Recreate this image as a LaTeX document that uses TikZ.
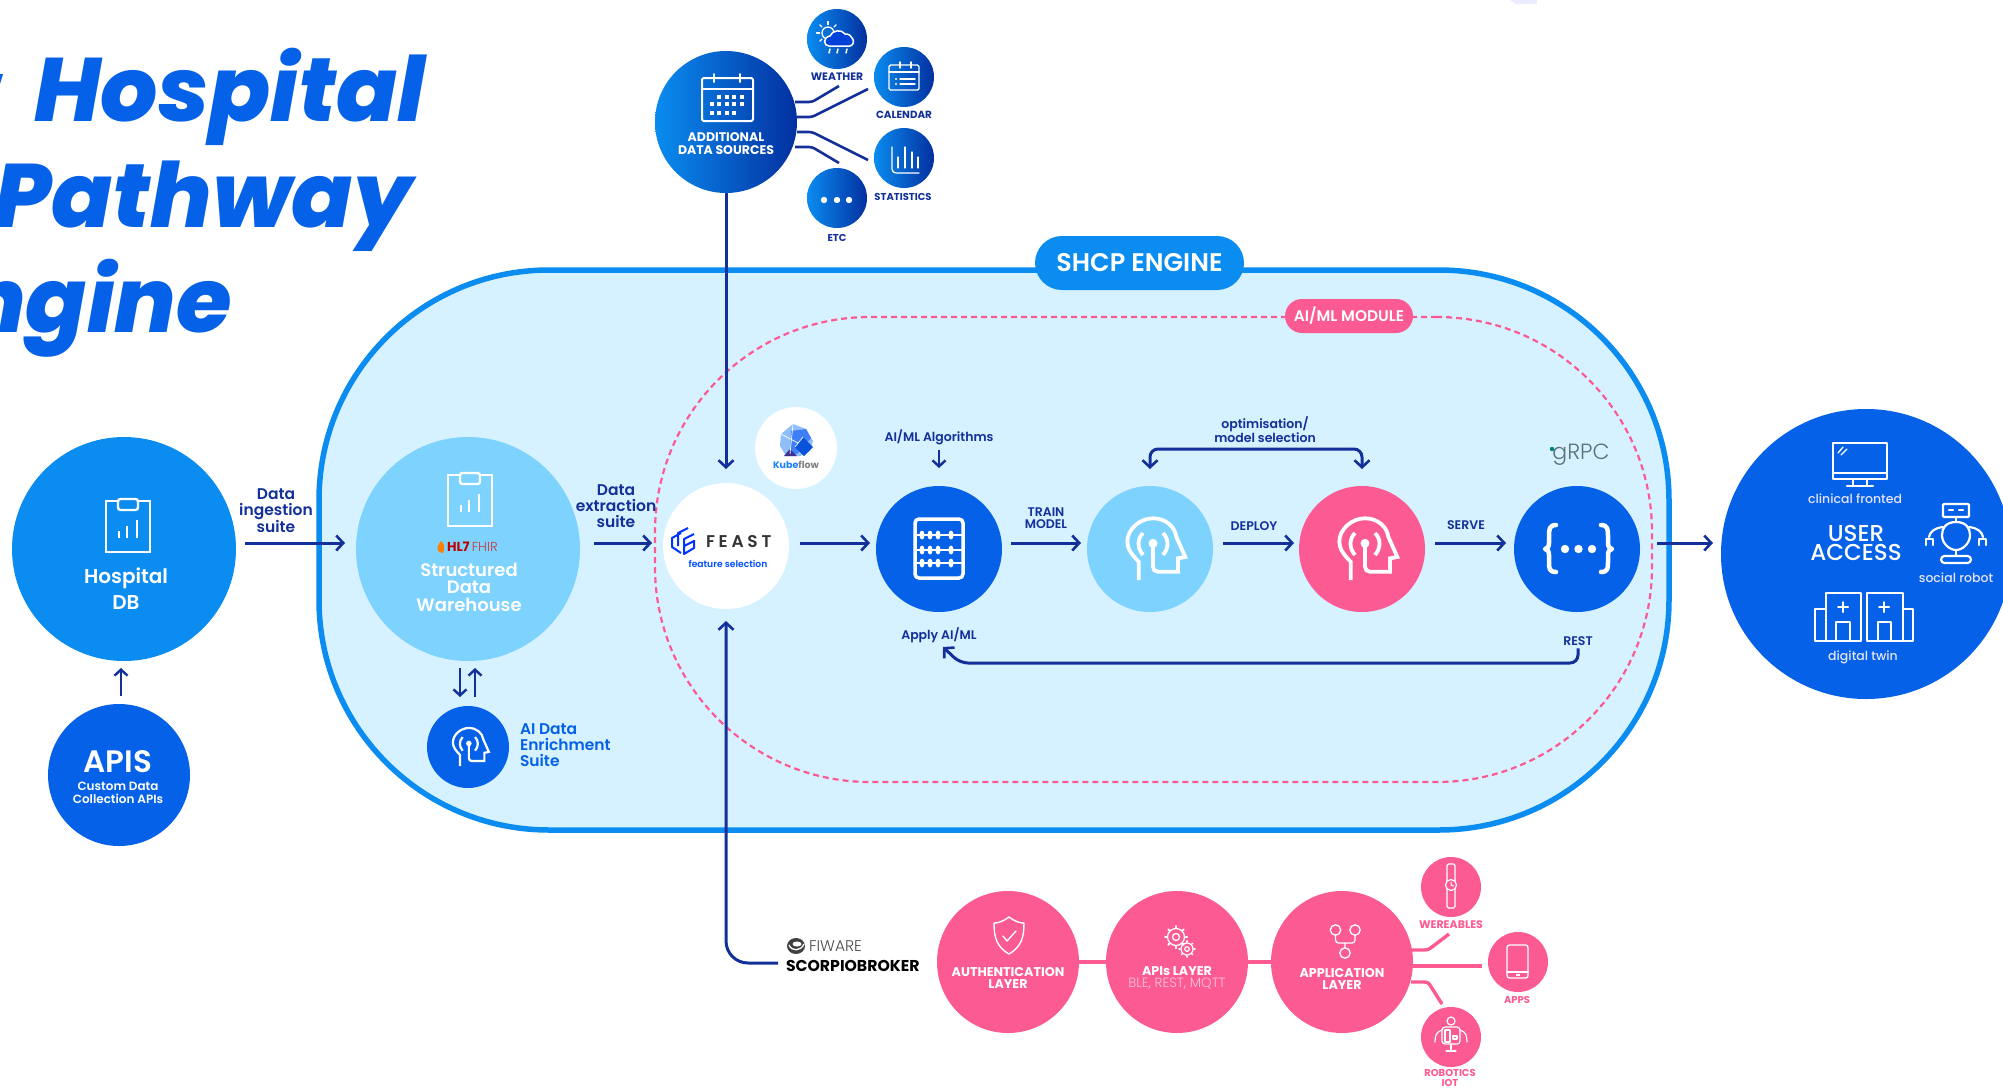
\documentclass[tikz,border=0pt]{standalone}
\usepackage{fontspec}
\setmainfont{Poppins}
\newfontfamily\pmed{Poppins Medium}
\newfontfamily\psemi{Poppins SemiBold}
\newfontfamily\plight{Poppins Light}
\newfontfamily\ptitle{Poppins ExtraBold Italic}
\usetikzlibrary{arrows.meta,calc}
\definecolor{navy}{HTML}{13309A}
\definecolor{azure}{HTML}{0B8CF0}
\definecolor{royal}{HTML}{0561E8}
\definecolor{sky}{HTML}{7DD3FD}
\definecolor{pale}{HTML}{D6F1FF}
\definecolor{rosy}{HTML}{FC5A92}
\definecolor{gradA}{HTML}{0A8CF0}
\definecolor{gradB}{HTML}{0330A0}
\definecolor{kubeA}{HTML}{90BEFB}
\definecolor{kubeB}{HTML}{3F7FF7}
\definecolor{kubeC}{HTML}{0A52D9}
\definecolor{kubeD}{HTML}{3B2F8F}
\definecolor{grpcgray}{HTML}{5B7078}
\newcommand{\fs}[2]{\fontsize{#1}{#2}\selectfont}
\tikzset{
  x=1pt,y=-1pt,
  disc/.style={circle,inner sep=0pt,outer sep=0pt,minimum size=#1,draw=none},
  grad/.style={disc=#1,left color=gradA,right color=gradB},
  txt/.style={inner sep=0pt,outer sep=0pt,align=center},
  nlabel/.style={txt,text=navy,font=\psemi},
  wlabel/.style={txt,text=white,font=\psemi},
  tlabel/.style={txt,anchor=base east,text=royal,font=\ptitle\fs{90}{90}},
  flow/.style={draw=navy,line width=3pt,-{Straight Barb[length=7pt,width=15pt,line width=2.6pt]}},
  thin flow/.style={draw=navy,line width=2.4pt,-{Straight Barb[length=6pt,width=13pt,line width=2.4pt]}},
  link/.style={draw=navy,line width=2.6pt,rounded corners=3pt},
  plink/.style={draw=rosy,line width=3.4pt,rounded corners=3pt},
  icon/.style={draw=white,line width=#1,line cap=round,line join=round},
  icon/.default=1.6pt,
  headicon/.pic={
    \draw (-11.3,31) -- (-11.3,12.7) .. controls (-18,6) and (-22.7,0) .. (-22.7,-7.3)
      .. controls (-22.7,-20) and (-10,-30.7) .. (3,-30.7)
      .. controls (16,-30.7) and (25,-22) .. (26.3,-12.3) -- (35.3,8) -- (28,9.3) -- (28,22.7) -- (8,22.7)
      .. controls (5,22.7) and (3,20.7) .. (3,17.7) -- (3,-5.7);
    \fill (3,-5.7) circle (4.5);
    \draw (-7,-16) .. controls (-13,-10) and (-13,-1) .. (-7,6);
    \draw (13,-16) .. controls (19,-10) and (19,-1) .. (13,6);
  },
  clipicon/.pic={
    \draw (-10,-26) -- (-22,-26) -- (-22,25) -- (22,25) -- (22,-26) -- (10,-26);
    \draw[rounded corners=2.5pt] (-10,-28) rectangle (10,-17);
    \draw (-9,11) -- (-9,4) (-1,11) -- (-1,-1) (9,11) -- (9,-7);
  }
}
\begin{document}
\begin{tikzpicture}
\useasboundingbox (0,0) rectangle (2003,1088);
\begin{scope}
\clip (0,0) rectangle (2003,1088);

% faint mark at the top edge
\fill[color=blue!8] (1510,0) -- (1537,0) -- (1537,4) -- (1516,4) -- cycle;

% title
\node[tlabel] (t1) at (425,121) {Hospital};
\node[tlabel] (t2) at (412,227) {Pathway};
\node[tlabel] (t3) at (232,332) {ngine};
\fill[royal] (0,74) -- (3,74) -- (0,84) -- cycle;

% engine containers
\node[draw=azure,fill=pale,line width=5.5pt,rounded corners=230pt,minimum width=1350pt,minimum height=560pt,inner sep=0pt] (engine) at (994,550) {};
\node[draw=rosy,dash pattern=on 6pt off 4pt,line width=2.2pt,rounded corners=215pt,minimum width=997pt,minimum height=465pt,inner sep=0pt] (module) at (1153.5,549.5) {};
\node[fill=azure,rounded corners=27pt,minimum width=209pt,minimum height=54pt,inner sep=0pt,text=white,font=\psemi\fs{25.5}{25.5}] (shcp) at (1139.5,263) {SHCP ENGINE};
\node[fill=rosy,rounded corners=17pt,minimum width=128pt,minimum height=34pt,inner sep=0pt,text=white,font=\psemi\fs{15.4}{15.4}] (aiml) at (1349,316) {AI/ML MODULE};

% main discs
\node[disc=224pt,fill=azure] (hosp) at (124,549) {};
\node[disc=142pt,fill=royal] (apis) at (119,775) {};
\node[disc=224pt,fill=sky] (ware) at (468,549) {};
\node[disc=82pt,fill=royal] (enrich) at (468,747) {};
\node[disc=126pt,fill=white] (feast) at (726,546) {};
\node[disc=82pt,fill=white] (kube) at (796,448) {};
\node[disc=126pt,fill=royal] (abacus) at (939,549) {};
\node[disc=126pt,fill=sky] (lhead) at (1150,549) {};
\node[disc=126pt,fill=rosy] (phead) at (1362,549) {};
\node[disc=126pt,fill=royal] (grpc) at (1577,549) {};
\node[disc=290pt,fill=royal] (user) at (1866,554) {};

% additional data sources
\coordinate (l1) at (839,86);
\coordinate (l2) at (868,89);
\coordinate (l3) at (868,160);
\coordinate (l4) at (839,163);
\node[grad=142pt] (add) at (726,122) {};
\node[grad=60pt] (weather) at (837,39) {};
\node[grad=60pt] (calendar) at (904,77) {};
\node[grad=60pt] (stats) at (904,158) {};
\node[grad=60pt] (etc) at (837,198) {};
\draw[link] ($(add.center)+(69,-20)$) -- (812,102) -- (l1);
\draw[link] ($(add.center)+(71,-5)$) -- (812,117) -- (l2);
\draw[link] ($(add.center)+(71,10)$) -- (812,132) -- (l3);
\draw[link] ($(add.center)+(69,25)$) -- (812,147) -- (l4);

% pink layers
\coordinate (p1) at (1449,934);
\coordinate (p2) at (1482,966);
\coordinate (p3) at (1442,1004);
\node[disc=142pt,fill=rosy] (auth) at (1008,962) {};
\node[disc=142pt,fill=rosy] (apil) at (1177,962) {};
\node[disc=142pt,fill=rosy] (appl) at (1342,962) {};
\node[disc=60pt,fill=rosy] (wear) at (1451,887) {};
\node[disc=60pt,fill=rosy] (apps) at (1518,962) {};
\node[disc=60pt,fill=rosy] (robo) at (1451,1037) {};
\draw[plink] (auth.east) -- (apil.west);
\draw[plink] (apil.east) -- (appl.west);
\draw[plink] ($(appl.center)+(69,-12)$) -- (1428,950) -- (p1);
\draw[plink] ($(appl.center)+(71,4)$) -- (p2);
\draw[plink] ($(appl.center)+(69,20)$) -- (1428,982) -- (p3);

% flows
\draw[flow] ($(hosp.east)+(9,-6)$) -- ($(ware.west)+(-11,-6)$);
\draw[flow] ($(ware.east)+(14,-6)$) -- ($(feast.west)+(-11,-3)$);
\draw[flow] ($(feast.east)+(11,-3)$) -- ($(abacus.west)+(-6,-6)$);
\draw[flow] ($(abacus.east)+(9,-6)$) -- ($(lhead.west)+(-6,-6)$);
\draw[flow] ($(lhead.east)+(10,-6)$) -- ($(phead.west)+(-5,-6)$);
\draw[flow] ($(phead.east)+(10,-6)$) -- ($(grpc.west)+(-8,-6)$);
\draw[flow] ($(grpc.east)+(17,-6)$) -- ($(user.west)+(-8,-11)$);
\draw[flow] (add.south) -- ($(feast.north)+(0,-14)$);
\coordinate (fw) at (778,963);
\draw[flow,rounded corners=22pt] (fw) -| ($(feast.south)+(0,12)$);
\draw[thin flow] ($(apis.north)+(2,-8)$) -- ($(hosp.south)+(-3,7)$);
\draw[thin flow] ($(ware.south)+(-8,7)$) -- ($(enrich.north)+(-8,-9)$);
\draw[thin flow] ($(enrich.north)+(7,-9)$) -- ($(ware.south)+(7,7)$);

% flow labels
\node[nlabel,font=\psemi\fs{15.5}{15.7}] (ingest) at (276,511) {Data\\ingestion\\suite};
\node[nlabel,font=\psemi\fs{15.5}{15.7}] (extract) at (616,506) {Data\\extraction\\suite};
\node[nlabel,font=\psemi\fs{12.5}{13}] (algo) at (939,437) {AI/ML Algorithms};
\draw[thin flow] ($(algo.south)+(0,5)$) -- ($(abacus.north)+(0,-18)$);
\node[nlabel,font=\psemi\fs{12.5}{12.5}] (train) at (1046,518) {TRAIN\\MODEL};
\node[nlabel,font=\psemi\fs{12.5}{12.5}] (deploy) at (1254,526) {DEPLOY};
\node[nlabel,font=\psemi\fs{12.5}{12.5}] (serve) at (1466,525) {SERVE};
\node[nlabel,font=\psemi\fs{12.5}{13}] (opt) at (1265,430) {optimisation/\\model selection};
\coordinate (optb) at (1257,449);
\draw[flow,{Straight Barb[length=7pt,width=15pt,line width=2.6pt]}-{Straight Barb[length=7pt,width=15pt,line width=2.6pt]},rounded corners=8pt] ($(lhead.north)+(0,-17)$) |- (optb) -| ($(phead.north)+(0,-17)$);
\node[nlabel,font=\psemi\fs{12.5}{12.5}] (apply) at (939,635) {Apply AI/ML};
\node[nlabel,font=\psemi\fs{12.5}{12.5}] (rest) at (1578,641) {REST};
\coordinate (rtip) at (943,647);
\coordinate (rmid) at (960,663);
\draw[flow,rounded corners=8pt] ($(rest.south)+(0,3)$) |- (rmid) -- (rtip);

% Hospital DB / APIs / warehouse text
\pic[color=white,line width=2.4pt] at (128,527) {clipicon};
\node[wlabel,font=\psemi\fs{20}{26}] (hosptxt) at (126,589) {Hospital\\DB};
\node[wlabel,font=\psemi\fs{31}{31}] (apistxt) at (118,762) {APIS};
\node[wlabel,font=\psemi\fs{12}{12.5}] (apissub) at (118,793) {Custom Data\\Collection APIs};
\pic[color=white,line width=2.4pt] at (470,501) {clipicon};
\fill[orange] (441,541) .. controls (445,544) and (445,548) .. (443,553) .. controls (437,553) and (435,548) .. (441,541);
\node[txt,anchor=west,font=\fs{13}{13}] (fhir) at (447,547) {\textcolor{red!75!black}{\bfseries HL7}\,{\plight\textcolor{red!55!gray}{FHIR}}};
\node[wlabel,font=\psemi\fs{18}{17.5}] (waretxt) at (469,587) {Structured\\Data\\Warehouse};
\pic[color=white,line width=2.2pt,scale=.62] at (467,747) {headicon};
\node[txt,anchor=west,align=left,text=royal,font=\psemi\fs{15.5}{16}] (enrichtxt) at (520,745) {AI Data\\Enrichment\\Suite};

% Additional data sources icons
\draw[icon=2pt,rounded corners=2pt] (702,78) rectangle (753,121);
\draw[icon=2pt] (702,89) -- (753,89) (714,74) -- (714,82) (740,74) -- (740,82);
\foreach \px in {719,727,734,742} \fill[white] (\px-2,95) rectangle (\px+2,99);
\foreach \px in {712,719,727,734,742} \fill[white] (\px-2,102) rectangle (\px+2,106);
\foreach \px in {712,719,727,734} \fill[white] (\px-2,111) rectangle (\px+2,115);
\node[wlabel,font=\bfseries\fs{12.5}{13}] (addtxt) at (726,144) {ADDITIONAL\\DATA SOURCES};
% weather
\draw[icon=1.3pt] (828,33) circle (6);
\foreach \a in {0,45,...,315} \draw[icon=1.3pt] ($(828,33)+(\a:8.5)$) -- ($(828,33)+(\a:11.5)$);
\draw[icon=1.5pt,fill=blue!70!cyan!85!black] (829,46) .. controls (823,46) and (823,37) .. (830,36) .. controls (832,30) and (842,29) .. (845,34) .. controls (852,33) and (857,44) .. (850,46) -- cycle;
\draw[icon=1.5pt] (830,49) -- (829,53) (838,49) -- (837,53) (847,49) -- (846,53);
% calendar
\draw[icon=1.4pt,rounded corners=1.5pt] (889,65) rectangle (919,90);
\draw[icon=1.4pt] (889,72) -- (919,72) (900,62) -- (900,68) (911,62) -- (911,68);
\draw[icon=1.4pt] (900,79) -- (915,79) (900,84) -- (915,84);
\fill[white] (896,79) circle (1.2) (896,84) circle (1.2);
% stats
\draw[icon=1.3pt,rounded corners=4pt] (892,147) -- (892,173) -- (919,173);
\draw[icon=1.3pt] (898,168) -- (898,157) (905,168) -- (905,147) (912,168) -- (912,152) (918,168) -- (918,157);
% etc
\fill[white] (824,200) circle (3.2) (837,200) circle (3.2) (849,200) circle (3.2);
\node[nlabel,font=\bfseries\fs{10.8}{10.8}] (wl) at (837,77) {WEATHER};
\node[nlabel,font=\bfseries\fs{10.4}{10.4}] (cl) at (904,115) {CALENDAR};
\node[nlabel,font=\bfseries\fs{10}{10}] (sl) at (903,197) {STATISTICS};
\node[nlabel,font=\bfseries\fs{10}{10}] (el) at (837,238) {ETC};

% Kubeflow
\fill[kubeA] (793,424) -- (806,429) -- (813,441) -- (810,451) -- (800,456) -- (786,456) -- (780,446) -- (781,434) -- cycle;
\fill[kubeB] (791,431) -- (806,429) -- (811,438) -- (797,454) -- (790,454) -- cycle;
\fill[kubeC] (803,437) -- (813,447) -- (804,456) -- (795,447) -- cycle;
\fill[kubeD] (790,449) -- (797,456) -- (784,456) -- cycle;
\draw[white,line width=.7pt] (781,434) -- (798,443) (793,424) -- (790,454) (803,437) -- (795,447);
\node[txt,font=\bfseries\fs{9.5}{10}] (kubetxt) at (796,465) {\textcolor{blue!55!cyan!90}{Kube}\textcolor{gray}{flow}};

% Feast
\draw[color=blue!80!cyan,line width=2pt,line join=round] (681,533) -- (672,538) -- (672,547) -- (681,553) (688,528) -- (678,533) -- (678,546) (694,534) -- (684,539) -- (684,554) -- (694,548) -- (694,540) (684,546) -- (694,541);
\node[txt,anchor=west,text=black!80,font=\psemi\fs{17}{17}\addfontfeatures{LetterSpace=22}] (feasttxt) at (706,542) {FEAST};
\node[txt,text=blue!70!cyan,font=\psemi\fs{9.2}{10}] (feastsub) at (728,564) {feature selection};

% Abacus
\draw[white,line width=3.5pt,rounded corners=4pt] (915,519) rectangle (963,578);
\foreach \ry in {535,550,563}{
  \draw[white,line width=1.8pt] (916,\ry) -- (962,\ry);
  \foreach \bx in {922,930,938,951}{\fill[white] (\bx,\ry) ellipse (2.6 and 4.5);}
}

% heads
\pic[color=white,line width=3.8pt] at (1150,549) {headicon};
\pic[color=white,line width=3.8pt] at (1362,549) {headicon};

% gRPC braces
\draw[white,line width=4.5pt,line cap=round,line join=round]
  (1556,525) .. controls (1549,525) and (1549,530) .. (1549,536) -- (1549,543) .. controls (1549,547) and (1547,549) .. (1545,549)
  .. controls (1547,549) and (1549,551) .. (1549,555) -- (1549,562) .. controls (1549,568) and (1549,572) .. (1556,572);
\draw[white,line width=4.5pt,line cap=round,line join=round]
  (1601,525) .. controls (1608,525) and (1608,530) .. (1608,536) -- (1608,543) .. controls (1608,547) and (1610,549) .. (1612,549)
  .. controls (1610,549) and (1608,551) .. (1608,555) -- (1608,562) .. controls (1608,568) and (1608,572) .. (1601,572);
\fill[white] (1565,549) circle (4.2) (1578.5,549) circle (4.2) (1592,549) circle (4.2);
\node[txt,text=grpcgray,font=\plight\fs{22}{22}] (grpclogo) at (1581,455) {gRPC};
\fill[teal] (1552,449) circle (2.2);

% user access
\draw[icon=2.2pt] (1833,443) rectangle (1887,479);
\draw[icon=2.2pt] (1833,473) -- (1887,473) (1853,479) -- (1853,486) (1867,479) -- (1867,486) (1847,486) -- (1873,486);
\draw[icon=1.3pt] (1838,453) -- (1843,447) (1841,455) -- (1847,449);
\node[wlabel,font=\pmed\fs{12.5}{13},text=blue!10] (clin) at (1855,499) {clinical fronted};
\node[wlabel,font=\pmed\fs{23}{19.5}] (usertxt) at (1856,543) {USER\\ACCESS};
\draw[icon=2.2pt,rounded corners=1pt] (1943,504) rectangle (1969,517);
\draw[icon=2.2pt] (1949,510) -- (1953,510) (1959,510) -- (1963,510) (1956,517) -- (1956,522);
\draw[icon=2.2pt] (1956,522) .. controls (1946,522) and (1942,528) .. (1942,535) .. controls (1942,544) and (1950,550) .. (1956,550) .. controls (1962,550) and (1970,544) .. (1970,535) .. controls (1970,528) and (1966,522) .. (1956,522);
\draw[icon=2.2pt] (1956,550) -- (1956,556);
\draw[icon=2.2pt,rounded corners=3.5pt] (1941,556) rectangle (1971,563);
\draw[icon=2.2pt] (1943,527) .. controls (1934,528) and (1930,532) .. (1929,537) (1969,527) .. controls (1978,528) and (1982,532) .. (1983,537);
\draw[icon=2.2pt] (1926,545) -- (1926,539) -- (1933,539) -- (1933,545) (1979,545) -- (1979,539) -- (1986,539) -- (1986,545);
\node[wlabel,font=\pmed\fs{12.5}{13},text=blue!10] (socl) at (1956,578) {social robot};
\draw[icon=2pt] (1826,641) -- (1826,593) -- (1861,593) -- (1861,641) -- cycle;
\draw[icon=2pt] (1826,609) -- (1815,609) -- (1815,641) -- (1826,641);
\draw[icon=2pt] (1836,641) -- (1836,622) -- (1850,622) -- (1850,641);
\draw[icon=2pt] (1843,602) -- (1843,612) (1838,607) -- (1848,607);
\draw[icon=2pt] (1867,641) -- (1867,593) -- (1903,593) -- (1903,641) -- cycle;
\draw[icon=2pt] (1903,609) -- (1913,609) -- (1913,641) -- (1903,641);
\draw[icon=2pt] (1878,641) -- (1878,622) -- (1891,622) -- (1891,641);
\draw[icon=2pt] (1884,602) -- (1884,612) (1879,607) -- (1889,607);
\node[wlabel,font=\pmed\fs{12.5}{13},text=blue!10] (twin) at (1863,657) {digital twin};

% fiware
\fill[black!75] (796,946) ellipse (9 and 8);
\draw[white,line width=1.3pt] (789,945) .. controls (792,952) and (801,951) .. (804,944);
\fill[white] (797,944) ellipse (4.5 and 2.5);
\node[txt,anchor=west,text=black!70,font=\plight\fs{15.5}{15.5}] (fiware) at (809,946) {FIWARE};
\node[txt,anchor=west,text=black,font=\bfseries\fs{15.7}{15.7}] (scorpio) at (786,966) {SCORPIOBROKER};

% pink icons + text
\draw[icon=1.4pt] (1009,917) .. controls (1002,922) and (998,923) .. (994,923) .. controls (994,938) and (997,947) .. (1009,954) .. controls (1021,947) and (1024,938) .. (1024,923) .. controls (1020,923) and (1016,922) .. (1009,917);
\draw[icon=1.4pt] (1003,936) -- (1007,941) -- (1016,931);
\node[wlabel,font=\bfseries\fs{12.7}{12.5}] (authtxt) at (1008,978) {AUTHENTICATION\\LAYER};
\draw[icon=1.3pt] (1176,937) circle (8.5) (1176,937) circle (3.5);
\foreach \a in {0,45,...,315} \draw[icon=2pt] ($(1176,937)+(\a:9.5)$) -- ($(1176,937)+(\a:11)$);
\draw[icon=1.2pt] (1187,949) circle (6) (1187,949) circle (2.3);
\foreach \a in {0,45,...,315} \draw[icon=1.6pt] ($(1187,949)+(\a:7)$) -- ($(1187,949)+(\a:8)$);
\node[wlabel,font=\bfseries\fs{12.7}{12.5}] (apitxt) at (1177,971) {APIs LAYER};
\node[wlabel,font=\plight\fs{13.4}{13.4},text=rosy!35] (apisub) at (1177,984) {BLE, REST, MQTT};
\draw[icon=1.3pt] (1335.5,930) circle (5.2) (1355,930) circle (5.2) (1345,953) circle (5.2);
\draw[icon=1.3pt,rounded corners=3pt] (1335.5,935) -- (1335.5,943) -- (1355,943) -- (1355,935) (1345,943) -- (1345,948);
\node[wlabel,font=\bfseries\fs{12.7}{12.5}] (apptxt) at (1342,979) {APPLICATION\\LAYER};
% watch
\draw[icon=1.2pt,rounded corners=1.5pt] (1447,864) rectangle (1455,908);
\draw[icon=1.2pt,fill=rosy] (1451,885) circle (5.5);
\draw[icon=1pt] (1451,882) -- (1451,885) -- (1453.5,886);
% phone
\draw[icon=1.3pt,rounded corners=2.5pt] (1507,945) rectangle (1528,978);
\draw[icon=1.3pt] (1507,972) -- (1528,972);
\fill[white] (1515.5,973.5) rectangle (1519.5,976);
% robot
\draw[icon=1.2pt] (1451,1021) circle (4);
\draw[icon=1.2pt,rounded corners=3pt] (1442,1044) -- (1442,1027) -- (1460,1027) -- (1460,1044) -- cycle;
\draw[icon=1.2pt] (1445,1030) rectangle (1450,1042) (1453,1036) rectangle (1457,1039);
\draw[icon=1.2pt] (1451,1044) -- (1451,1051) (1446,1051) -- (1456,1051);
\draw[icon=1.2pt] (1442,1030) .. controls (1436,1032) and (1435,1036) .. (1435,1042) (1460,1030) .. controls (1466,1032) and (1467,1036) .. (1467,1042);
\node[txt,text=rosy,font=\bfseries\fs{11}{11}] (wearl) at (1451,925) {WEREABLES};
\node[txt,text=rosy,font=\bfseries\fs{10}{10}] (appsl) at (1517,1000) {APPS};
\node[txt,text=rosy,font=\bfseries\fs{10}{9.5}] (robol) at (1450,1078) {ROBOTICS\\IOT};
\end{scope}
\end{tikzpicture}
\end{document}
